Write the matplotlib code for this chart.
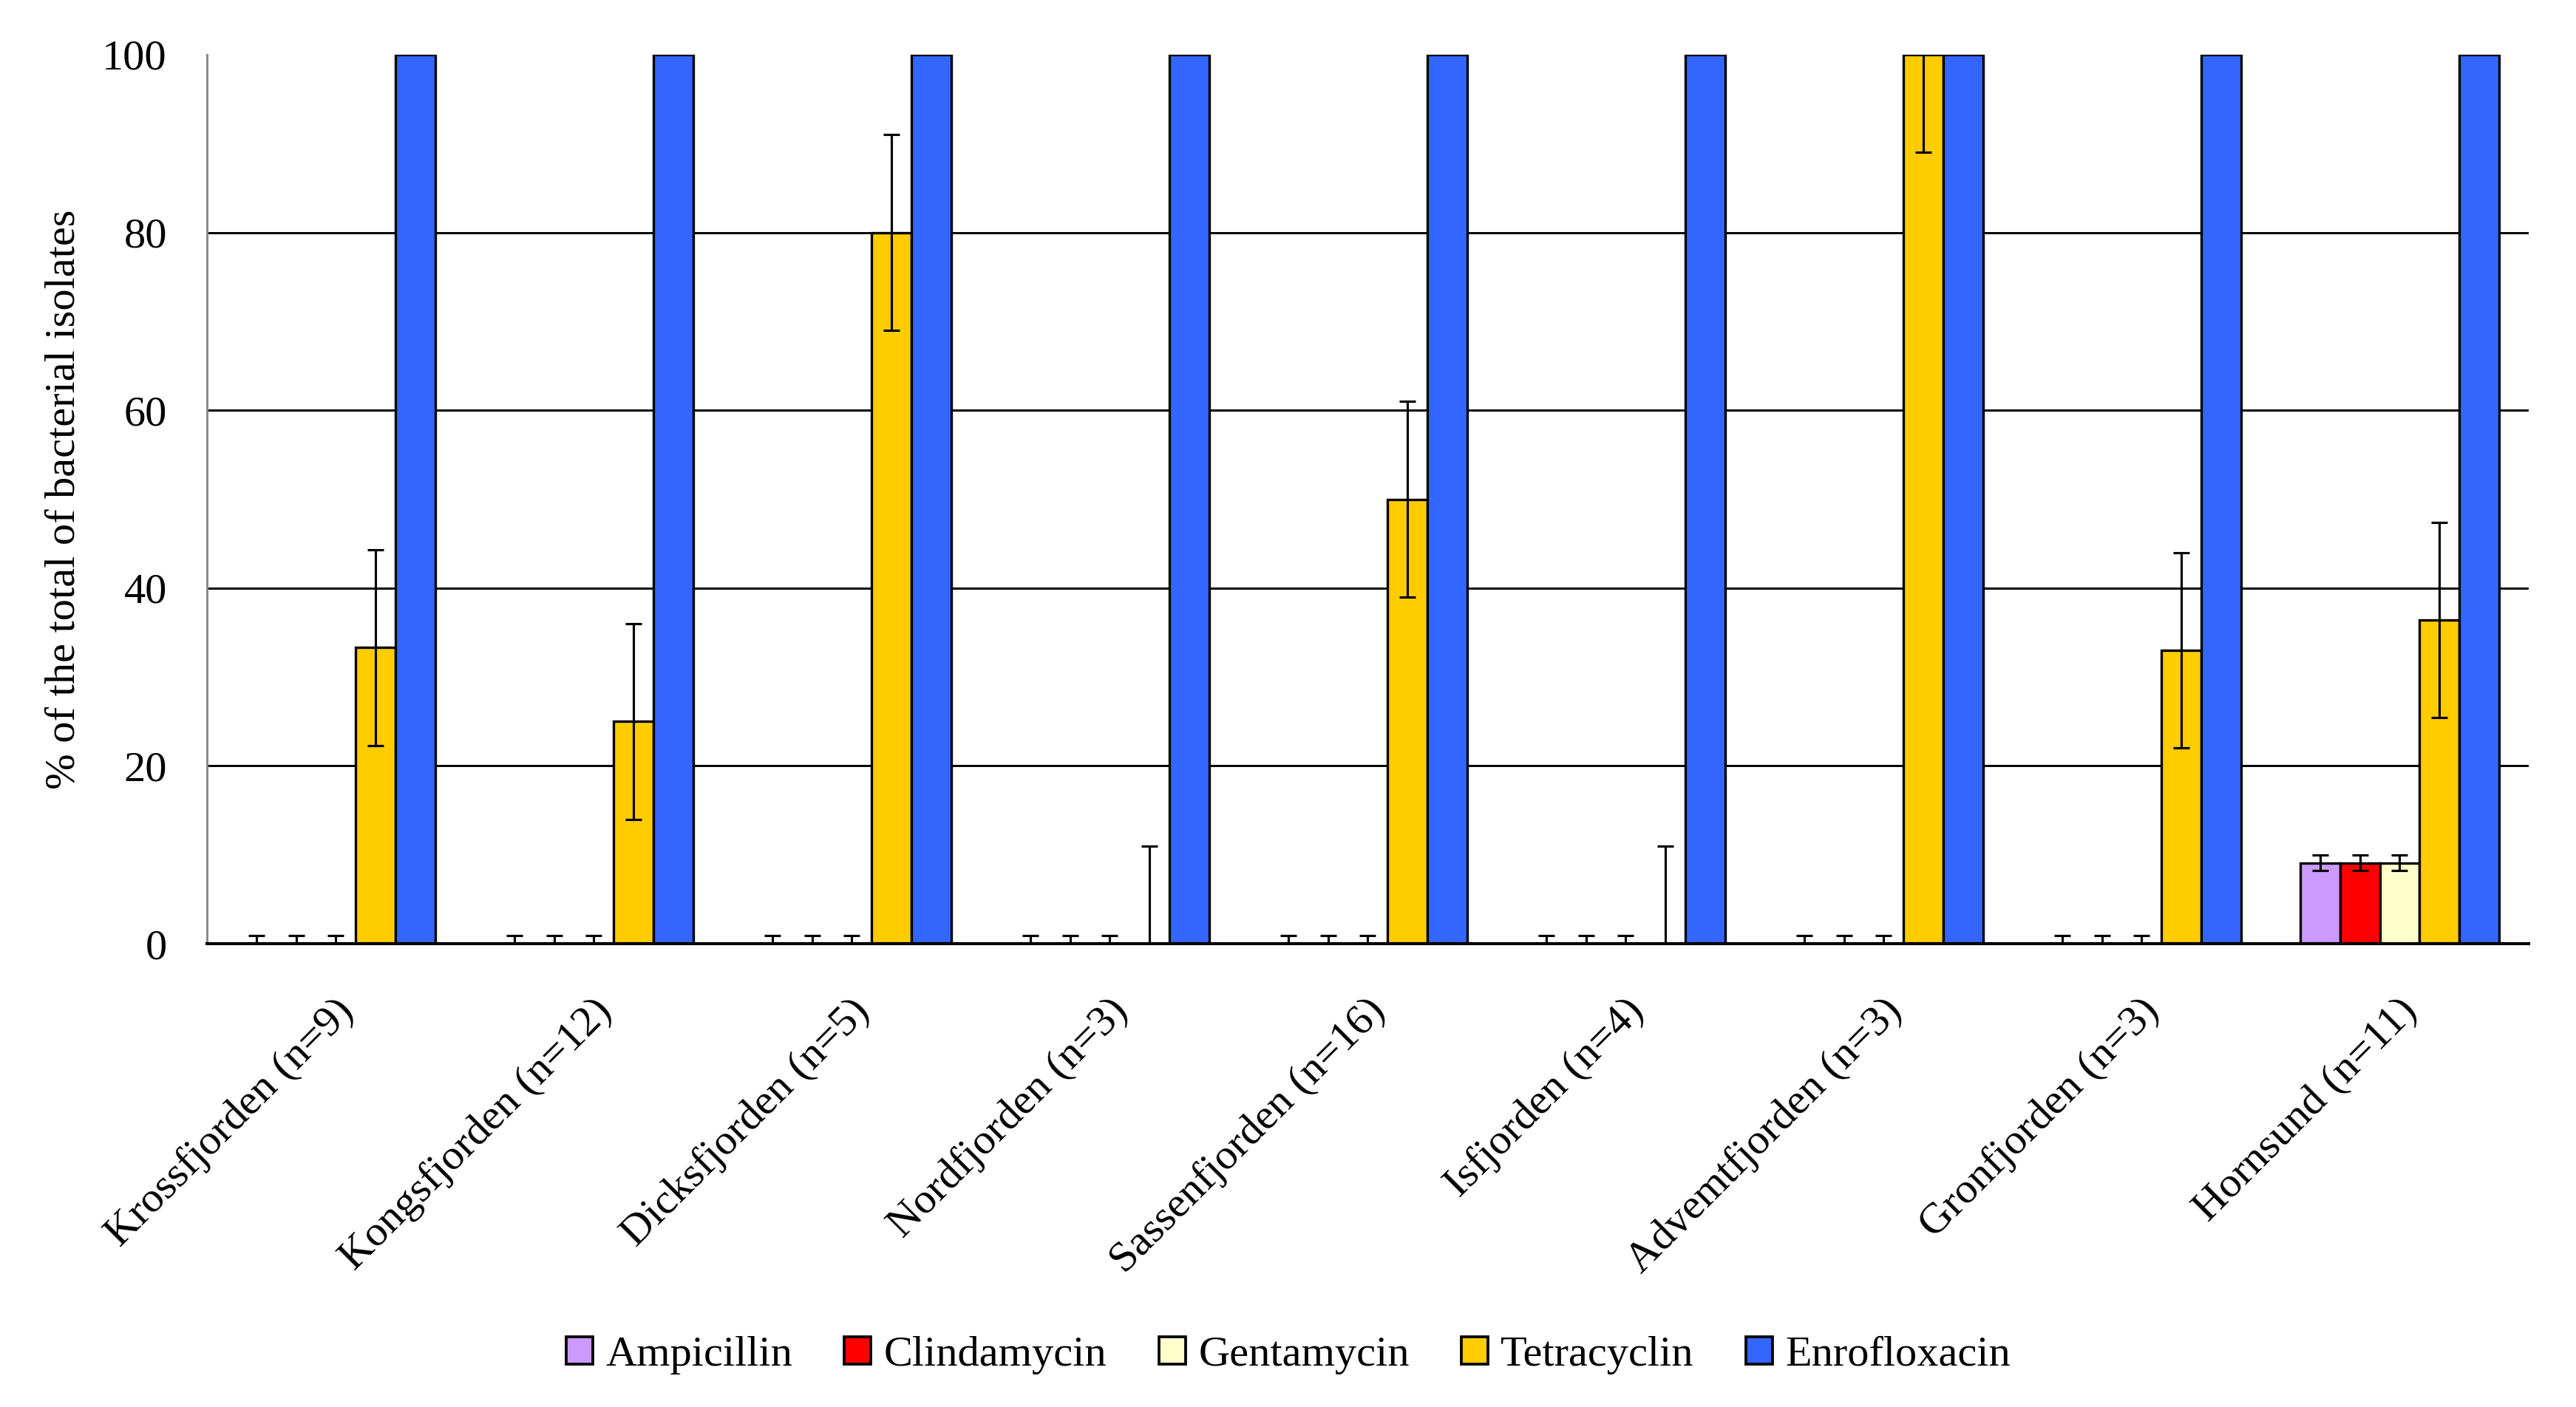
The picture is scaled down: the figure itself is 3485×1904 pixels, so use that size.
import numpy as np
import matplotlib
matplotlib.use("Agg")
import matplotlib.pyplot as plt
import matplotlib.transforms as mtransforms
from matplotlib.patches import Patch

plt.rcParams['font.family'] = ['Liberation Serif', 'DejaVu Serif']

fjords = ["Krossfjorden (n=9)", "Kongsfjorden (n=12)", "Dicksfjorden (n=5)",
          "Nordfjorden (n=3)", "Sassenfjorden (n=16)", "Isfjorden (n=4)",
          "Advemtfjorden (n=3)", "Gronfjorden (n=3)", "Hornsund (n=11)"]
antibiotics = ["Ampicillin", "Clindamycin", "Gentamycin", "Tetracyclin", "Enrofloxacin"]
colors = ["#CC99FF", "#FF0000", "#FFFFCC", "#FFCC00", "#3366FF"]

ampicillin = [0, 0, 0, 0, 0, 0, 0, 0, 9.1]
clindamycin = [0, 0, 0, 0, 0, 0, 0, 0, 9.1]
gentamycin = [0, 0, 0, 0, 0, 0, 0, 0, 9.1]
tetracyclin = [33.3, 25, 80, 0, 50, 0, 100, 33, 36.4]
enrofloxacin = [100, 100, 100, 100, 100, 100, 100, 100, 100]

ampicillin_err = [0.9] * 9
clindamycin_err = [0.9] * 9
gentamycin_err = [0.9] * 9
tetracyclin_err = [11] * 9
enrofloxacin_err = None

series = [ampicillin, clindamycin, gentamycin, tetracyclin, enrofloxacin]
errors = [ampicillin_err, clindamycin_err, gentamycin_err, tetracyclin_err, enrofloxacin_err]

W, H = 3486, 1904
fig = plt.figure(figsize=(W / 300, H / 300), dpi=300)
ax = fig.add_axes([280 / W, 1 - 1277 / H, (3421 - 280) / W, (1277 - 74) / H])

x = np.arange(len(fjords))
bw = 1 / 6.5

for i, (vals, err, col) in enumerate(zip(series, errors, colors)):
    pos = x + (i - 2) * bw
    ax.bar(pos, vals, width=bw, color=col, edgecolor='black', linewidth=0.8, zorder=3)
    if err is not None:
        ax.errorbar(pos, vals, yerr=err, fmt='none', ecolor='black',
                    elinewidth=0.75, capsize=2.6, capthick=0.75, zorder=4)

for yv in [20, 40, 60, 80]:
    ax.axhline(yv, color='black', linewidth=0.7, zorder=1)

ax.set_xlim(-0.5, len(fjords) - 0.5)
ax.set_ylim(0, 100)
ax.set_yticks([0, 20, 40, 60, 80, 100])
ax.tick_params(axis='y', length=0, pad=13, labelsize=14)
ax.tick_params(axis='x', length=0, pad=20, labelsize=14)
ax.set_xticks(x)
ax.set_xticklabels(fjords, rotation=45, ha='right', va='center', rotation_mode='anchor')

# nudge the rotated labels a little to the right, as in the original
shift = mtransforms.ScaledTranslation(16 / 300, 0, fig.dpi_scale_trans)
for lab in ax.get_xticklabels():
    lab.set_transform(lab.get_transform() + shift)

for side in ['top', 'right']:
    ax.spines[side].set_visible(False)
ax.spines['left'].set_color('#888888')
ax.spines['left'].set_linewidth(0.7)
ax.spines['bottom'].set_linewidth(1.0)
ax.spines['bottom'].set_zorder(5)

ax.set_ylabel("% of the total of bacterial isolates", fontsize=14)
ax.yaxis.set_label_coords((113 - 280) / (3421 - 280), 0.5)

handles = [Patch(facecolor=c, edgecolor='black', linewidth=0.9) for c in colors]
fig.legend(handles, antibiotics, loc='center', bbox_to_anchor=(0.5, 1 - 1834 / H),
           ncol=5, frameon=False, fontsize=14, handlelength=0.62, handleheight=0.62,
           handletextpad=0.3, columnspacing=1.2)

fig.savefig("out.png", dpi=300)
